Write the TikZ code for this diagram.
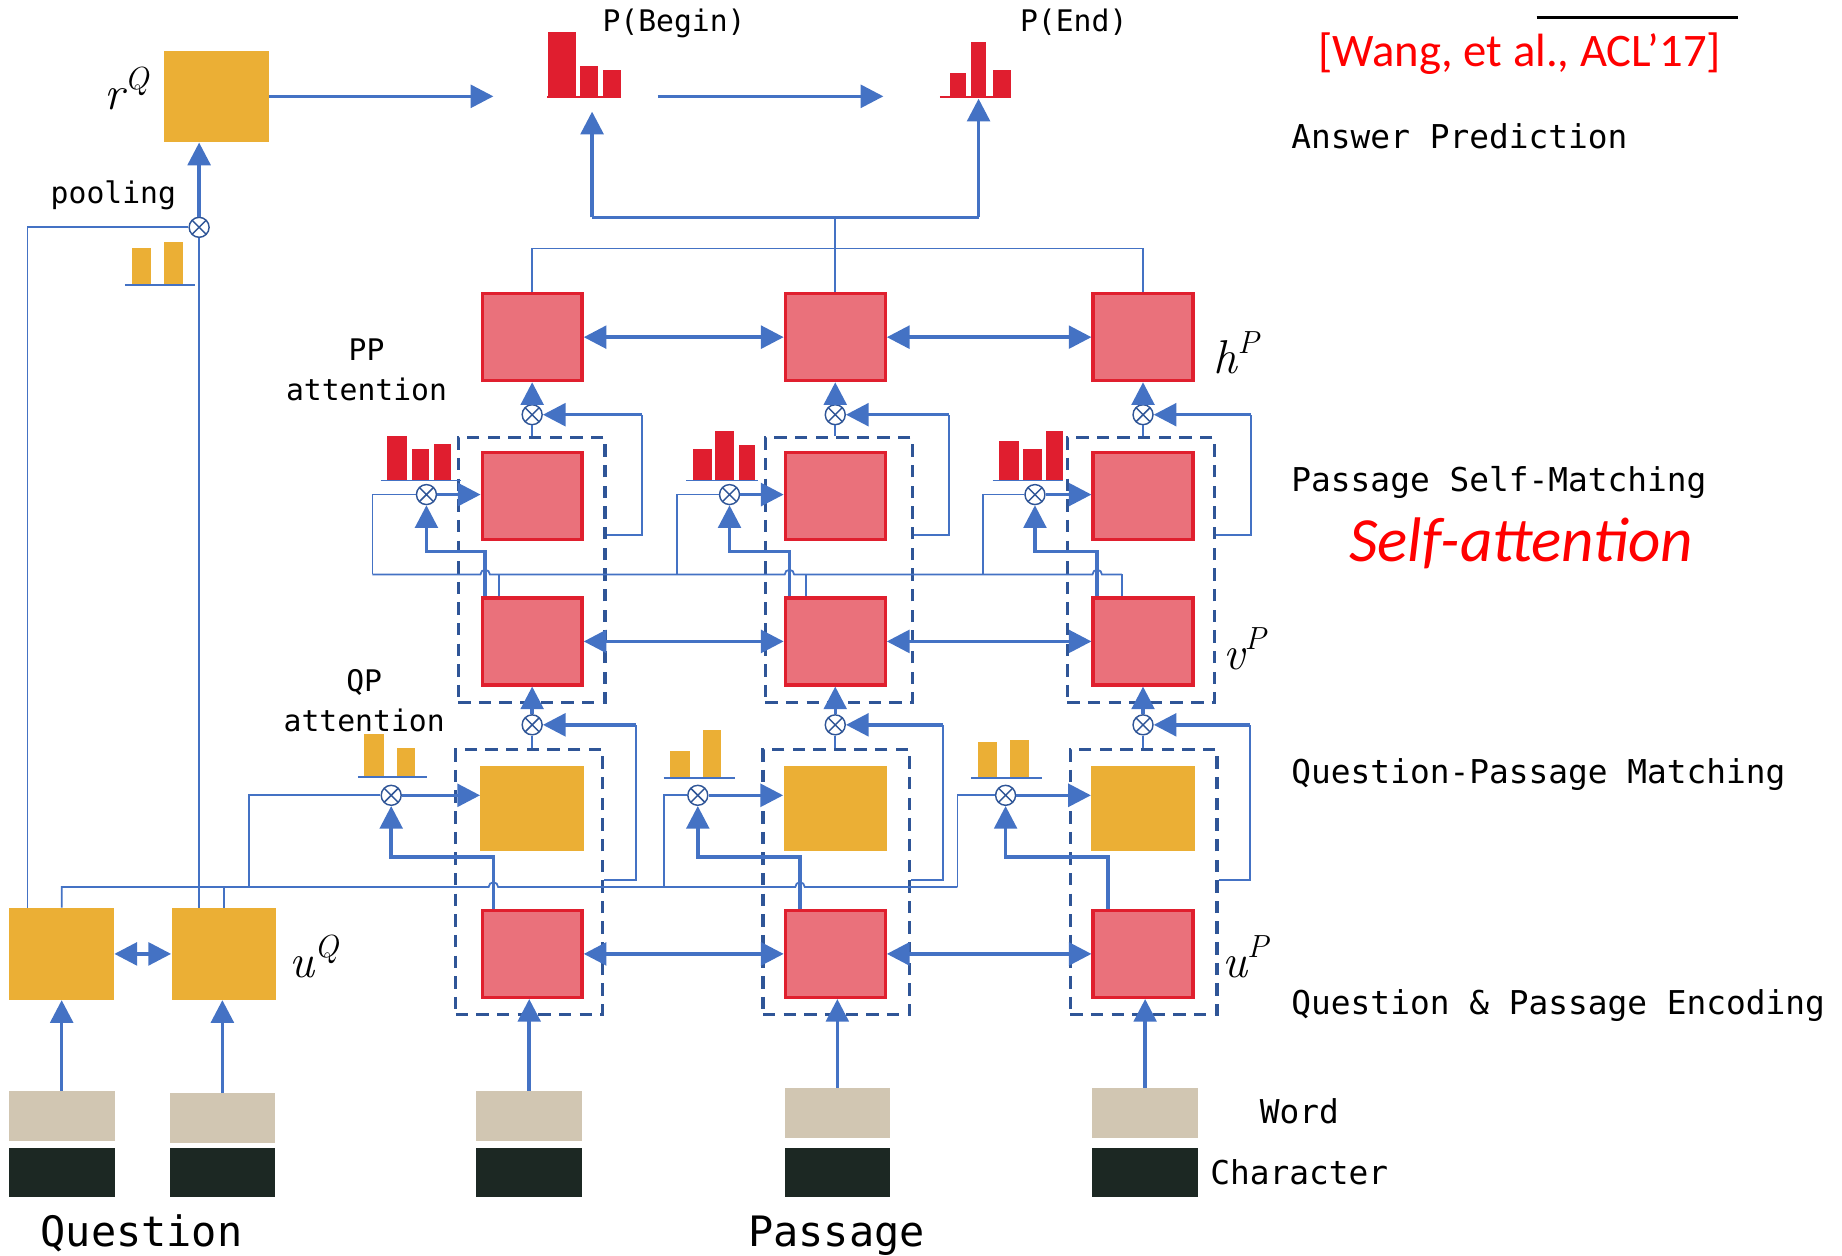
\documentclass[tikz,border=0pt]{standalone}
\usepackage{fontspec}
\newfontfamily\monof{DejaVu Sans Mono}
\newfontfamily\calf{Carlito}
\usetikzlibrary{arrows.meta,calc}
\definecolor{qorange}{HTML}{EBAF35}
\definecolor{pfill}{HTML}{EA717B}
\definecolor{pborder}{HTML}{E01F2E}
\definecolor{hred}{HTML}{E01E2F}
\definecolor{lblue}{HTML}{4472C4}
\definecolor{dblue}{HTML}{2F5597}
\definecolor{wordc}{HTML}{D1C6B2}
\definecolor{charc}{HTML}{1C2823}
\definecolor{cred}{HTML}{FF0000}
\newcommand\mylab[2]{\itshape #1\raisebox{0.42em}{\fontsize{15.5}{17}\selectfont #2}}
\begin{document}
\begin{tikzpicture}[x=0.02cm,y=-0.02cm,
  pbox/.style={draw=pborder, line width=1.6pt, fill=pfill, inner sep=0pt, minimum width=1.70cm, minimum height=1.48cm},
  obox/.style={fill=qorange, inner sep=0pt, minimum width=1.78cm, minimum height=1.56cm},
  qpbox/.style={fill=qorange, inner sep=0pt, minimum width=1.76cm, minimum height=1.44cm},
  dbox/.style={draw=dblue, line width=1.5pt, dash pattern=on 6pt off 4pt, inner sep=0pt, minimum width=2.50cm, minimum height=4.50cm},
  wbox/.style={fill=wordc, inner sep=0pt, minimum width=1.8cm, minimum height=0.85cm},
  cbox/.style={fill=charc, inner sep=0pt, minimum width=1.8cm, minimum height=0.834cm},
  otimes/.style={circle, draw=dblue, fill=white, line width=0.7pt, minimum size=0.34cm, inner sep=0pt,
     path picture={\draw[dblue, line width=0.7pt] (path picture bounding box.north west) -- (path picture bounding box.south east) (path picture bounding box.north east) -- (path picture bounding box.south west);}},
  thinln/.style={draw=lblue, line width=0.85pt},
  medln/.style={draw=lblue, line width=1.2pt},
  thickln/.style={draw=lblue, line width=1.7pt},
  thickarr/.style={thickln, -{Triangle[length=11pt,width=11pt]}},
  biarr/.style={thickln, {Triangle[length=11pt,width=11pt]}-{Triangle[length=11pt,width=11pt]}},
  lbl/.style={inner sep=0pt, font=\monof\fontsize{15.9}{19}\selectfont},
  slbl/.style={inner sep=0pt, font=\monof\fontsize{14.4}{17}\selectfont},
  blbl/.style={inner sep=0pt, font=\monof\fontsize{20.3}{24}\selectfont},
  mlbl/.style={inner sep=0pt, font=\fontsize{23}{25}\selectfont}
]
\useasboundingbox (0,0) rectangle (1568,1069);

% dashed groups
\node[dbox] (D1) at (452.5,485.25) {};
\node[dbox] (D2) at (714,485.25) {};
\node[dbox] (D3) at (971,485.25) {};
\node[dbox] (E1) at (450.5,750.75) {};
\node[dbox] (E2) at (712,750.75) {};
\node[dbox] (E3) at (973.5,750.75) {};

% boxes
\node[obox] (rQ) at (184.5,82) {};
\node[obox] (Q1) at (52.5,812) {};
\node[obox] (Q2) at (190.5,812) {};
\foreach \i/\x in {1/453,2/711,3/973}{
  \node[pbox] (h\i) at (\x,287) {};
  \node[pbox] (s\i) at (\x,422) {};
  \node[pbox] (v\i) at (\x,546) {};
  \node[qpbox] (qp\i) at (\x,688) {};
  \node[pbox] (u\i) at (\x,812) {};
  \node[otimes] (hc\i) at (\x,353) {};
  \node[otimes] (vc\i) at (\x,617) {};
}
\node[otimes] (sa1) at (363,421) {};
\node[otimes] (sa2) at (621,421) {};
\node[otimes] (sa3) at (881,421) {};
\node[otimes] (qa1) at (333,677) {};
\node[otimes] (qa2) at (594,677) {};
\node[otimes] (qa3) at (856,677) {};
\node[otimes] (pc) at (169.5,193.5) {};

% word / character embeddings
\node[wbox] (wQ1) at (52.5,950) {};   \node[cbox] (cQ1) at (52.5,998) {};
\node[wbox] (wQ2) at (189.3,952) {};  \node[cbox] (cQ2) at (189.3,998) {};
\node[wbox] (wP1) at (450.5,950) {};  \node[cbox] (cP1) at (450.5,998) {};
\node[wbox] (wP2) at (712.8,947.7) {};\node[cbox] (cP2) at (712.8,998) {};
\node[wbox] (wP3) at (974.8,947.7) {};\node[cbox] (cP3) at (974.8,998) {};

% histograms
\fill[hred] (466.6,27) rectangle (490,83);
\fill[hred] (494,56) rectangle (509,83);
\fill[hred] (513,60) rectangle (529,83);
\draw[hred, line width=1pt] (466,82.5) -- (529,82.5);
\fill[hred] (809,62) rectangle (822,82.5);
\fill[hred] (826.6,35.5) rectangle (839,82.5);
\fill[hred] (845.5,59.6) rectangle (860.6,82.5);
\draw[hred, line width=1pt] (800,82.3) -- (860.6,82.3);

\fill[qorange] (112,210.8) rectangle (128.6,242.6);
\fill[qorange] (140,206) rectangle (155.5,242.6);
\draw[thinln] (106.4,242.6) -- (166,242.6);

\fill[hred] (329.6,371) rectangle (346.6,408.6);
\fill[hred] (350.5,382) rectangle (365,408.6);
\fill[hred] (369.5,377.7) rectangle (383.7,408.6);
\draw[thinln] (324,409) -- (392,409);
\fill[hred] (589.7,382) rectangle (605.8,409);
\fill[hred] (608.7,367) rectangle (624.8,409);
\fill[hred] (629,378.8) rectangle (642.8,409);
\draw[thinln] (584,409) -- (645,409);
\fill[hred] (850.5,375.4) rectangle (867.5,409);
\fill[hred] (871,382) rectangle (886.7,409);
\fill[hred] (890.5,367) rectangle (904.6,409);
\draw[thinln] (845,409) -- (905,409);

\fill[qorange] (310,625) rectangle (326.5,661.5);
\fill[qorange] (338,636.5) rectangle (353,661.5);
\draw[thinln] (304.6,661.5) -- (363.6,661.5);
\fill[qorange] (570.5,639.3) rectangle (587,662);
\fill[qorange] (598.5,621) rectangle (613.8,662);
\draw[thinln] (565,662) -- (626,662);
\fill[qorange] (832.3,631.6) rectangle (848.7,662);
\fill[qorange] (860,630) rectangle (875.6,662);
\draw[thinln] (826.6,662) -- (887,662);

% citation rule
\draw[black, line width=1.2pt] (1308,15) -- (1479.5,15);

% ---------- connectors ----------
\foreach \w/\b in {wQ1/Q1,wQ2/Q2,wP1/u1,wP2/u2,wP3/u3}{
  \draw[thickarr] (\w.north) -- (\w.north |- \b.south);
}
\draw[biarr] (Q1.east) -- (Q2.west);
\draw[biarr] (u1.east) -- (u2.west);
\draw[biarr] (u2.east) -- (u3.west);
\draw[biarr] (v1.east) -- (v2.west);
\draw[biarr] (v2.east) -- (v3.west);
\draw[biarr] (h1.east) -- (h2.west);
\draw[biarr] (h2.east) -- (h3.west);

% pooling
\draw[thinln] ($(Q1.north)+(-29,0)$) |- (pc.west);
\draw[thinln] (pc.south |- Q2.north) -- (pc.south);
\draw[thickarr] (pc.north) -- (pc.north |- rQ.south);

% question vector line with hops
\draw[thinln] (Q1.north) -- (Q1.north |- 0,755) -- (416,755)
   arc[start angle=180,end angle=0,radius=0.08cm] -- (677,755)
   arc[start angle=180,end angle=0,radius=0.08cm] -- (815,755);
\draw[thinln] (Q2.north) -- (Q2.north |- 0,755);
\draw[thinln] (qa1.west) -| (212,755);
\draw[thinln] (qa2.west) -| (565,755);
\draw[thinln] (qa3.west) -| (815,755);

% QP attention
\draw[thickarr] ($(u1.north)+(-33,0)$) -- ++(0,-44) -| (qa1.south);
\draw[thickarr] ($(u2.north)+(-30,0)$) -- ++(0,-44) -| (qa2.south);
\draw[thickarr] ($(u3.north)+(-30,0)$) -- ++(0,-44) -| (qa3.south);
\foreach \i in {1,2,3}{
  \draw[thickarr] (qa\i.east) -- (qa\i.east -| qp\i.west);
  \draw[thickarr] (vc\i.north) -- (v\i.south);
  \draw[thinln] (vc\i.south) -- (vc\i.south |- E\i.north);
  \draw[thinln] ($(E\i.east)+(0,-1.5)$) -- ++(27,0) coordinate (gb\i) -- (gb\i |- vc\i);
  \draw[thickarr] (gb\i |- vc\i) -- (vc\i.east);
}

% passage line with hops (self-matching)
\draw[thinln] (317,489) -- (409,489)
   arc[start angle=180,end angle=0,radius=0.08cm] -- (668,489)
   arc[start angle=180,end angle=0,radius=0.08cm] -- (930,489)
   arc[start angle=180,end angle=0,radius=0.08cm] -- (955,489);
\draw[thinln] (sa1.west) -| (317,489);
\draw[thinln] (sa2.west) -| (576,489);
\draw[thinln] (sa3.west) -| (837,489);
\draw[thinln] (v1.north -| 425,0) -- (425,489);
\draw[thinln] (v2.north -| 686,0) -- (686,489);
\draw[thinln] (v3.north -| 955,0) -- (955,489);
\draw[thickarr] ($(v1.north)+(-40,0)$) -- ++(0,-38) -| (sa1.south);
\draw[thickarr] ($(v2.north)+(-39,0)$) -- ++(0,-38) -| (sa2.south);
\draw[thickarr] ($(v3.north)+(-39,0)$) -- ++(0,-38) -| (sa3.south);
\foreach \i in {1,2,3}{
  \draw[thickarr] (sa\i.east) -- (sa\i.east -| s\i.west);
  \draw[thickarr] (hc\i.north) -- (h\i.south);
  \draw[thinln] (hc\i.south) -- (hc\i.south |- D\i.north);
  \draw[thinln] ($(D\i.east)+(0,-30)$) -- ++(30,0) coordinate (fb\i) -- (fb\i |- hc\i);
  \draw[thickarr] (fb\i |- hc\i) -- (hc\i.east);
}

% answer prediction
\draw[thinln] (h1.north) -- ++(0,-37) -| (h3.north);
\coordinate (tj) at (711,185);
\coordinate (pb) at (504,95);
\coordinate (pe) at (833,84);
\draw[thinln] (h2.north) -- (tj);
\draw[medln] (pb |- tj) -- (pe |- tj);
\draw[thickarr] (pb |- tj) -- (pb);
\draw[thickarr] (pe |- tj) -- (pe);
\coordinate (rqe) at (420,82);
\draw[thickarr] (rQ.east) -- (rqe);
\coordinate (pbr) at (560,82);
\coordinate (pel) at (752,82);
\draw[thickarr] (pbr) -- (pel);

% ---------- labels ----------
\node[mlbl, anchor=base west] (lrq) at (89,93) {\mylab{r}{Q}};
\node[mlbl, anchor=base west] (luq) at (246,832) {\mylab{u}{Q}};
\node[mlbl, anchor=base west] (lhp) at (1033,318) {\mylab{h}{P}};
\node[mlbl, anchor=base west] (lvp) at (1041,570) {\mylab{v}{P}};
\node[mlbl, anchor=base west] (lup) at (1040,832) {\mylab{u}{P}};

\node[slbl, anchor=base] (tpb) at (573.8,27) {P(Begin)};
\node[slbl, anchor=base] (tpe) at (914,27) {P(End)};
\node[slbl, anchor=base] (tpool) at (96.5,173) {pooling};
\node[slbl, anchor=base] (tpp1) at (312,306.5) {PP};
\node[slbl, anchor=base] (tpp2) at (312,340.5) {attention};
\node[slbl, anchor=base] (tqp1) at (310,589) {QP};
\node[slbl, anchor=base] (tqp2) at (310,623) {attention};

\node[inner sep=0pt, anchor=base, text=cred, font=\calf\fontsize{22.6}{26}\selectfont] (cite) at (1293.5,56.5) {[Wang, et al., ACL’17]};
\node[lbl, anchor=base west] (tap) at (1099,126) {Answer Prediction};
\node[lbl, anchor=base west] (tsm) at (1099,418) {Passage Self-Matching};
\node[inner sep=0pt, anchor=base, text=cred, font=\calf\itshape\fontsize{30.5}{36}\selectfont] (tsa) at (1295,478) {Self-attention};
\node[lbl, anchor=base west] (tqpm) at (1099,667) {Question-Passage Matching};
\node[lbl, anchor=base west] (tenc) at (1099,864) {Question \& Passage Encoding};
\node[lbl, anchor=base] (tword) at (1106,956) {Word};
\node[lbl, anchor=base] (tchar) at (1106,1008) {Character};
\node[blbl, anchor=base] (tq) at (120.5,1061) {Question};
\node[blbl, anchor=base] (tp) at (712,1061) {Passage};
\end{tikzpicture}
\end{document}
